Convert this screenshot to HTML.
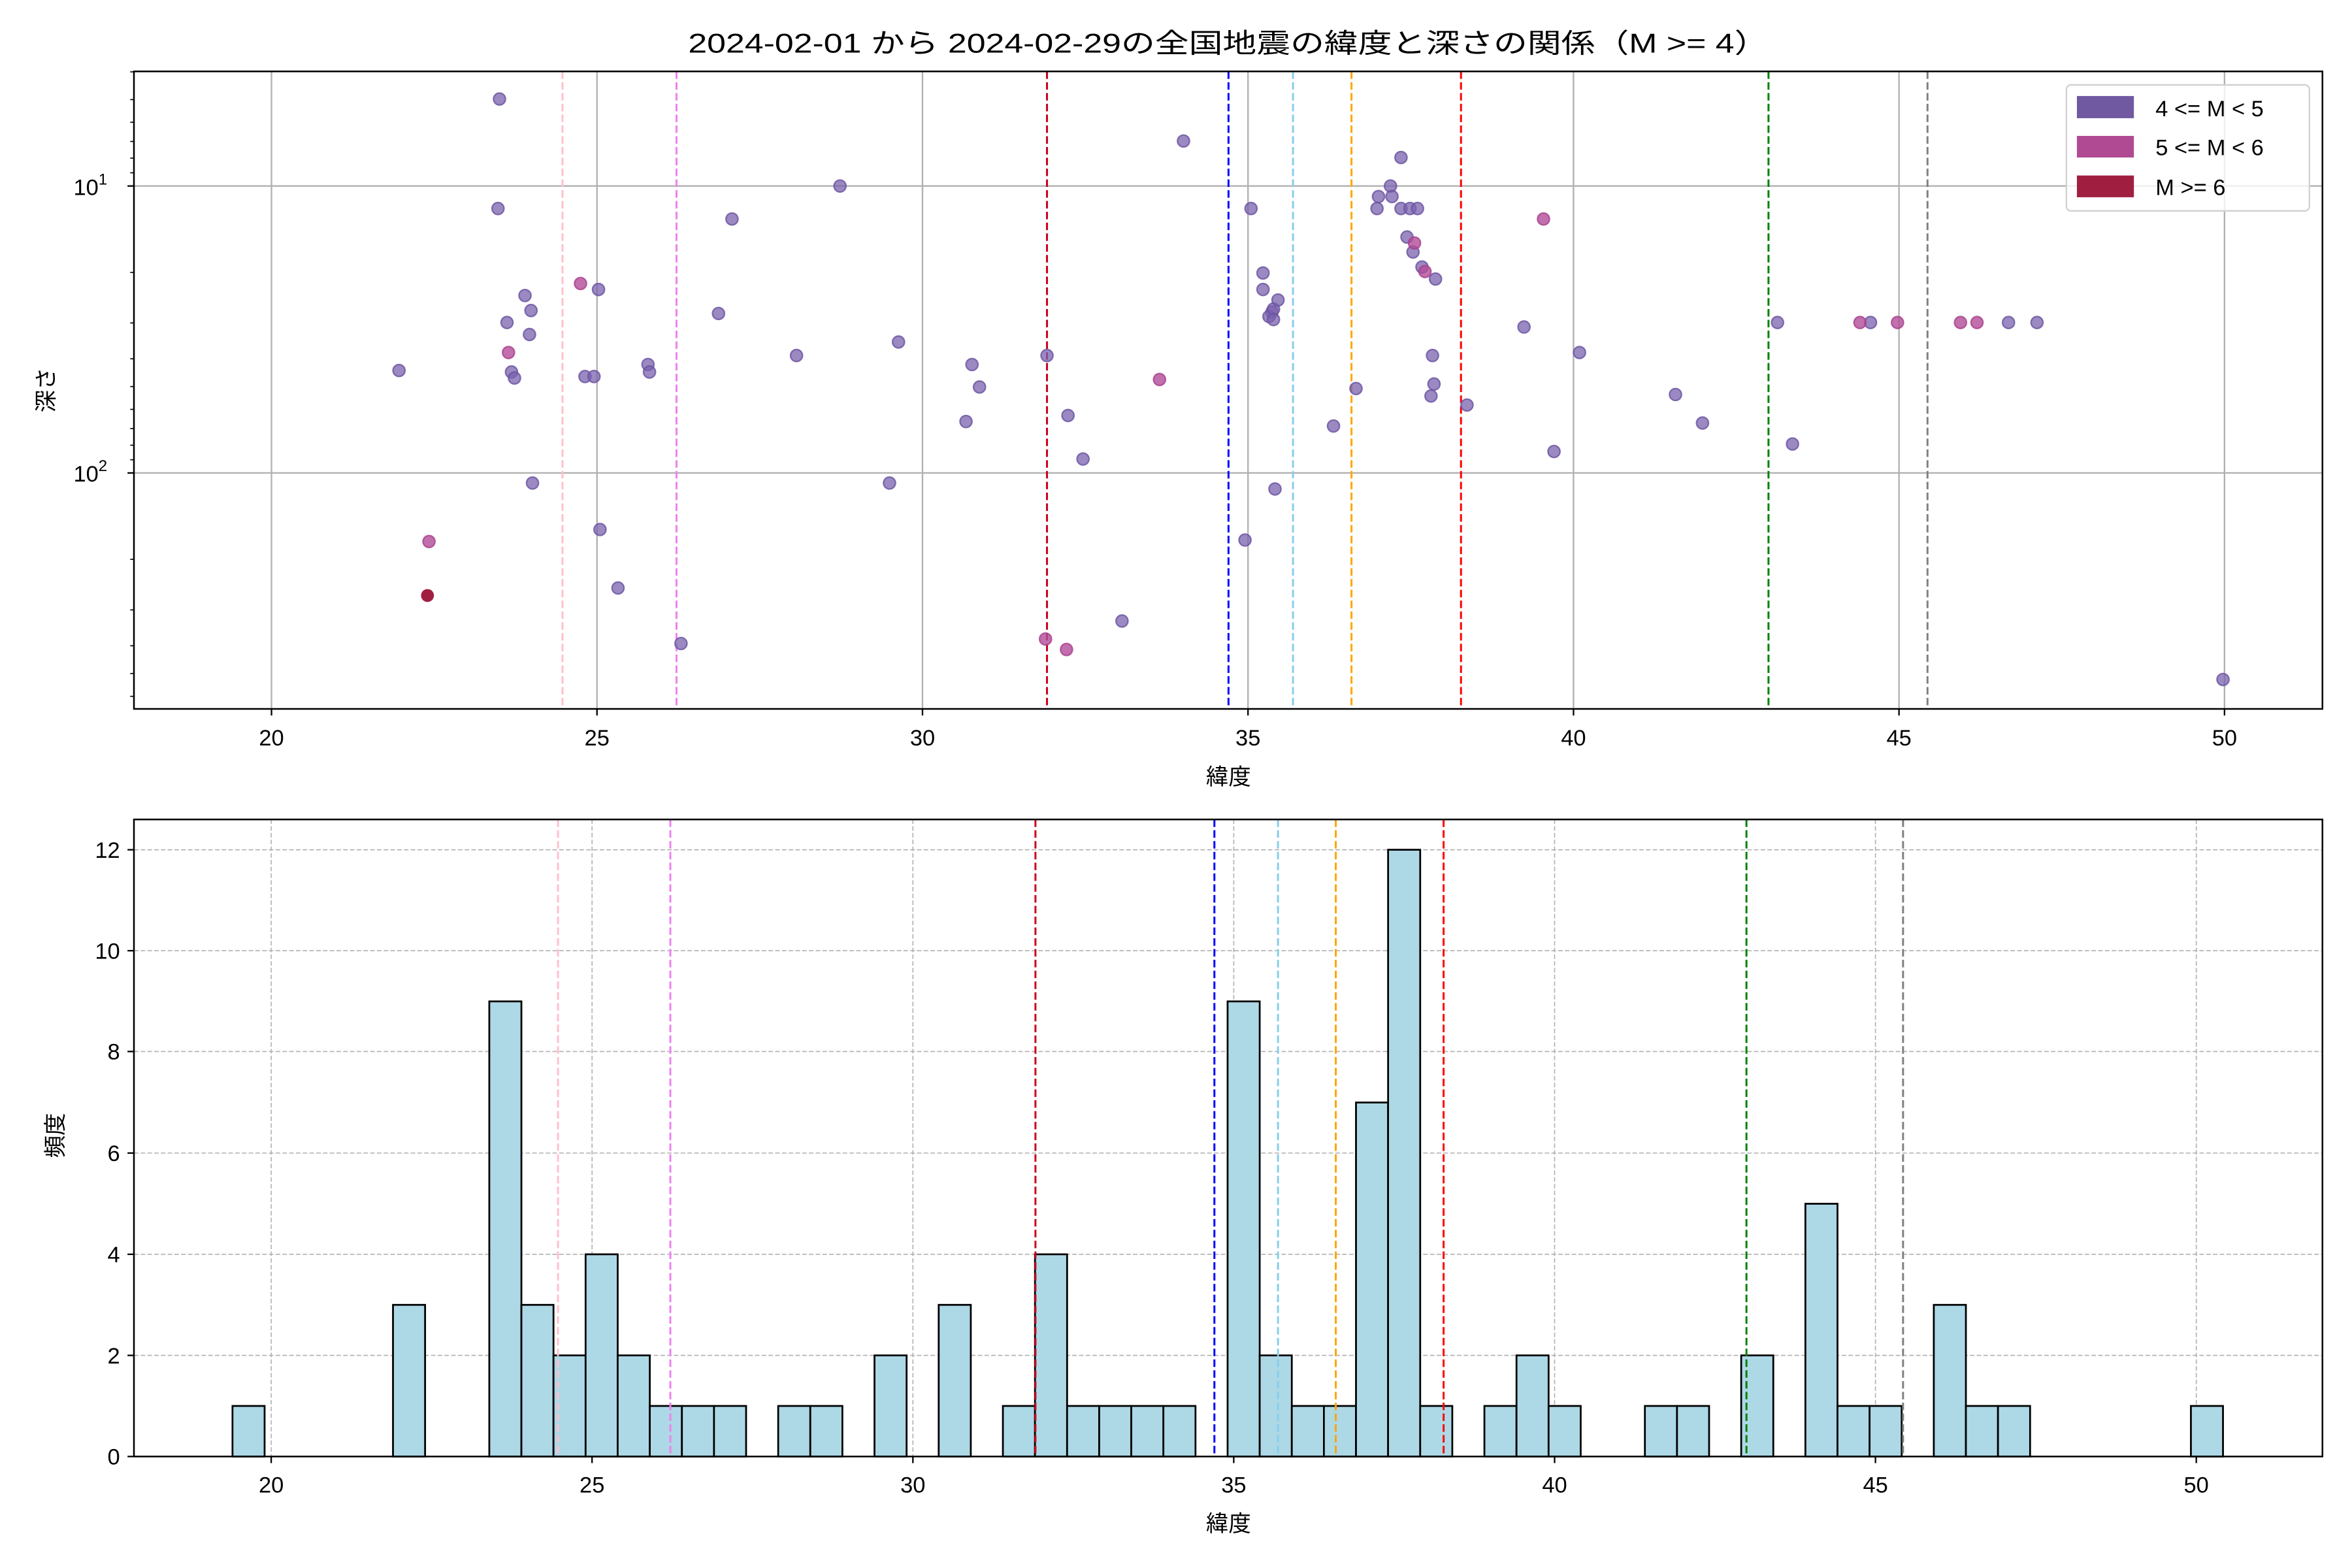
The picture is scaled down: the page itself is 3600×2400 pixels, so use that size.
<!DOCTYPE html>
<html><head><meta charset="utf-8"><style>html,body{margin:0;padding:0;background:#fff}svg{display:block}</style></head><body>
<svg width="3600" height="2400" viewBox="0 0 1568 1045.33" xmlns="http://www.w3.org/2000/svg" font-family="'Liberation Sans','Noto Sans CJK JP',sans-serif">
<rect width="1568" height="1046" fill="#fff"/>
<text x="818.8" y="35" font-size="18" text-anchor="middle" textLength="720" lengthAdjust="spacingAndGlyphs">2024-02-01 から 2024-02-29の全国地震の緯度と深さの関係（M &gt;= 4）</text>
<!-- TOP -->
<g stroke="#b0b0b0" stroke-width="1">
<line x1="181" y1="47.6" x2="181" y2="472.6"/><line x1="398" y1="47.6" x2="398" y2="472.6"/><line x1="615" y1="47.6" x2="615" y2="472.6"/><line x1="832" y1="47.6" x2="832" y2="472.6"/><line x1="1049" y1="47.6" x2="1049" y2="472.6"/><line x1="1266" y1="47.6" x2="1266" y2="472.6"/><line x1="1483" y1="47.6" x2="1483" y2="472.6"/>
<line x1="89.3" y1="124" x2="1548.3" y2="124"/><line x1="89.3" y1="315.3" x2="1548.3" y2="315.3"/>
</g>
<g stroke-width="1.3" stroke-dasharray="5,2.2" fill="none">
<line x1="375" y1="47.6" x2="375" y2="472.6" stroke="#ffc0cb"/>
<line x1="451" y1="47.6" x2="451" y2="472.6" stroke="#ee82ee"/>
<line x1="698" y1="47.6" x2="698" y2="472.6" stroke="#c8001c"/>
<line x1="819" y1="47.6" x2="819" y2="472.6" stroke="#0000ff"/>
<line x1="862" y1="47.6" x2="862" y2="472.6" stroke="#87ceeb"/>
<line x1="901" y1="47.6" x2="901" y2="472.6" stroke="#ffa500"/>
<line x1="974" y1="47.6" x2="974" y2="472.6" stroke="#ff0000"/>
<line x1="1179" y1="47.6" x2="1179" y2="472.6" stroke="#008000"/>
<line x1="1285" y1="47.6" x2="1285" y2="472.6" stroke="#808080"/>
</g>
<g fill="#7a62ad" fill-opacity="0.75" stroke="#6a52a0" stroke-opacity="0.8" stroke-width="1">
<circle cx="333" cy="66" r="4"/><circle cx="332" cy="139" r="4"/><circle cx="266" cy="247" r="4"/><circle cx="350" cy="197" r="4"/><circle cx="354" cy="207" r="4"/><circle cx="338" cy="215" r="4"/><circle cx="341" cy="248" r="4"/><circle cx="343" cy="252" r="4"/><circle cx="353" cy="223" r="4"/><circle cx="399" cy="193" r="4"/><circle cx="390" cy="251" r="4"/><circle cx="396" cy="251" r="4"/><circle cx="432" cy="243" r="4"/><circle cx="433" cy="248" r="4"/><circle cx="355" cy="322" r="4"/><circle cx="400" cy="353" r="4"/><circle cx="412" cy="392" r="4"/><circle cx="454" cy="429" r="4"/><circle cx="479" cy="209" r="4"/><circle cx="488" cy="146" r="4"/><circle cx="531" cy="237" r="4"/><circle cx="560" cy="124" r="4"/><circle cx="599" cy="228" r="4"/><circle cx="593" cy="322" r="4"/><circle cx="648" cy="243" r="4"/><circle cx="653" cy="258" r="4"/><circle cx="644" cy="281" r="4"/><circle cx="698" cy="237" r="4"/><circle cx="712" cy="277" r="4"/><circle cx="722" cy="306" r="4"/><circle cx="748" cy="414" r="4"/><circle cx="789" cy="94" r="4"/><circle cx="834" cy="139" r="4"/><circle cx="830" cy="360" r="4"/><circle cx="842" cy="182" r="4"/><circle cx="842" cy="193" r="4"/><circle cx="848" cy="208" r="4"/><circle cx="846" cy="211" r="4"/><circle cx="849" cy="206" r="4"/><circle cx="852" cy="200" r="4"/><circle cx="849" cy="213" r="4"/><circle cx="850" cy="326" r="4"/><circle cx="889" cy="284" r="4"/><circle cx="904" cy="259" r="4"/><circle cx="919" cy="131" r="4"/><circle cx="918" cy="139" r="4"/><circle cx="927" cy="124" r="4"/><circle cx="928" cy="131" r="4"/><circle cx="934" cy="105" r="4"/><circle cx="934" cy="139" r="4"/><circle cx="940" cy="139" r="4"/><circle cx="945" cy="139" r="4"/><circle cx="938" cy="158" r="4"/><circle cx="942" cy="168" r="4"/><circle cx="948" cy="178" r="4"/><circle cx="957" cy="186" r="4"/><circle cx="955" cy="237" r="4"/><circle cx="956" cy="256" r="4"/><circle cx="954" cy="264" r="4"/><circle cx="978" cy="270" r="4"/><circle cx="1016" cy="218" r="4"/><circle cx="1053" cy="235" r="4"/><circle cx="1036" cy="301" r="4"/><circle cx="1117" cy="263" r="4"/><circle cx="1135" cy="282" r="4"/><circle cx="1185" cy="215" r="4"/><circle cx="1195" cy="296" r="4"/><circle cx="1247" cy="215" r="4"/><circle cx="1339" cy="215" r="4"/><circle cx="1358" cy="215" r="4"/><circle cx="1482" cy="453" r="4"/>
</g>
<g fill="#b24c98" fill-opacity="0.8" stroke="#a8408c" stroke-opacity="0.8" stroke-width="1">
<circle cx="387" cy="189" r="4"/><circle cx="339" cy="235" r="4"/><circle cx="286" cy="361" r="4"/><circle cx="773" cy="253" r="4"/><circle cx="697" cy="426" r="4"/><circle cx="711" cy="433" r="4"/><circle cx="943" cy="162" r="4"/><circle cx="950" cy="181" r="4"/><circle cx="1029" cy="146" r="4"/><circle cx="1240" cy="215" r="4"/><circle cx="1265" cy="215" r="4"/><circle cx="1307" cy="215" r="4"/><circle cx="1318" cy="215" r="4"/>
</g>
<circle cx="285" cy="397" r="4.3" fill="#a01f40"/>
<rect x="89.3" y="47.6" width="1459" height="425" fill="none" stroke="#000" stroke-width="1.1"/>
<g stroke="#000" stroke-width="1">
<line x1="181" y1="472.6" x2="181" y2="477"/><line x1="398" y1="472.6" x2="398" y2="477"/><line x1="615" y1="472.6" x2="615" y2="477"/><line x1="832" y1="472.6" x2="832" y2="477"/><line x1="1049" y1="472.6" x2="1049" y2="477"/><line x1="1266" y1="472.6" x2="1266" y2="477"/><line x1="1483" y1="472.6" x2="1483" y2="477"/>
<line x1="85" y1="124" x2="89.3" y2="124"/><line x1="85" y1="315.3" x2="89.3" y2="315.3"/>
</g>
<g stroke="#000" stroke-width="0.7">
<line x1="86.8" y1="47.9" x2="89.3" y2="47.9"/><line x1="86.8" y1="66.4" x2="89.3" y2="66.4"/><line x1="86.8" y1="81.5" x2="89.3" y2="81.5"/><line x1="86.8" y1="94.3" x2="89.3" y2="94.3"/><line x1="86.8" y1="105.4" x2="89.3" y2="105.4"/><line x1="86.8" y1="115.2" x2="89.3" y2="115.2"/>
<line x1="86.8" y1="181.6" x2="89.3" y2="181.6"/><line x1="86.8" y1="215.3" x2="89.3" y2="215.3"/><line x1="86.8" y1="239.2" x2="89.3" y2="239.2"/><line x1="86.8" y1="257.7" x2="89.3" y2="257.7"/><line x1="86.8" y1="272.9" x2="89.3" y2="272.9"/><line x1="86.8" y1="285.7" x2="89.3" y2="285.7"/><line x1="86.8" y1="296.8" x2="89.3" y2="296.8"/><line x1="86.8" y1="306.5" x2="89.3" y2="306.5"/>
<line x1="86.8" y1="372.9" x2="89.3" y2="372.9"/><line x1="86.8" y1="406.6" x2="89.3" y2="406.6"/><line x1="86.8" y1="430.5" x2="89.3" y2="430.5"/><line x1="86.8" y1="449" x2="89.3" y2="449"/><line x1="86.8" y1="464.2" x2="89.3" y2="464.2"/>
</g>
<g font-size="15" text-anchor="middle">
<text x="181" y="497">20</text><text x="398" y="497">25</text><text x="615" y="497">30</text><text x="832" y="497">35</text><text x="1049" y="497">40</text><text x="1266" y="497">45</text><text x="1483" y="497">50</text>
</g>
<text x="49" y="130" font-size="15">10<tspan font-size="10.5" dy="-7">1</tspan></text>
<text x="49" y="321" font-size="15">10<tspan font-size="10.5" dy="-7">2</tspan></text>
<text x="819" y="523" font-size="15" text-anchor="middle">緯度</text>
<text transform="translate(36,260) rotate(-90)" font-size="15" text-anchor="middle">深さ</text>
<rect x="1377.6" y="56.6" width="162" height="84" rx="3" fill="#fff" fill-opacity="0.8" stroke="#d0d0d0" stroke-width="1"/>
<rect x="1384.6" y="64" width="38" height="14.8" fill="#7159a1"/>
<rect x="1384.6" y="90.6" width="38" height="14.4" fill="#b04b93"/>
<rect x="1384.6" y="117" width="38" height="14.5" fill="#a01f40"/>
<g font-size="15"><text x="1437" y="77.5">4 &lt;= M &lt; 5</text><text x="1437" y="103.5">5 &lt;= M &lt; 6</text><text x="1437" y="130">M &gt;= 6</text></g>
<!-- BOTTOM -->
<g stroke="#b0b0b0" stroke-width="0.7" stroke-dasharray="3,1.5">
<line x1="180.8" y1="546.3" x2="180.8" y2="971"/><line x1="394.7" y1="546.3" x2="394.7" y2="971"/><line x1="608.6" y1="546.3" x2="608.6" y2="971"/><line x1="822.5" y1="546.3" x2="822.5" y2="971"/><line x1="1036.4" y1="546.3" x2="1036.4" y2="971"/><line x1="1250.3" y1="546.3" x2="1250.3" y2="971"/><line x1="1464.2" y1="546.3" x2="1464.2" y2="971"/>
<line x1="89.3" y1="903.6" x2="1548.3" y2="903.6"/><line x1="89.3" y1="836.2" x2="1548.3" y2="836.2"/><line x1="89.3" y1="768.7" x2="1548.3" y2="768.7"/><line x1="89.3" y1="701" x2="1548.3" y2="701"/><line x1="89.3" y1="633.8" x2="1548.3" y2="633.8"/><line x1="89.3" y1="566.5" x2="1548.3" y2="566.5"/>
</g>
<g fill="#add8e6" stroke="#000" stroke-width="1.2">
<rect x="155" y="937.3" width="21.4" height="33.7"/>
<rect x="262" y="869.9" width="21.4" height="101.1"/>
<rect x="326.2" y="667.6" width="21.4" height="303.4"/>
<rect x="347.6" y="869.9" width="21.4" height="101.1"/>
<rect x="369" y="903.6" width="21.4" height="67.4"/>
<rect x="390.4" y="836.2" width="21.4" height="134.8"/>
<rect x="411.8" y="903.6" width="21.4" height="67.4"/>
<rect x="433.2" y="937.3" width="21.4" height="33.7"/>
<rect x="454.6" y="937.3" width="21.4" height="33.7"/>
<rect x="476" y="937.3" width="21.4" height="33.7"/>
<rect x="518.8" y="937.3" width="21.4" height="33.7"/>
<rect x="540.2" y="937.3" width="21.4" height="33.7"/>
<rect x="583" y="903.6" width="21.4" height="67.4"/>
<rect x="625.8" y="869.9" width="21.4" height="101.1"/>
<rect x="668.6" y="937.3" width="21.4" height="33.7"/>
<rect x="690" y="836.2" width="21.4" height="134.8"/>
<rect x="711.4" y="937.3" width="21.4" height="33.7"/>
<rect x="732.8" y="937.3" width="21.4" height="33.7"/>
<rect x="754.2" y="937.3" width="21.4" height="33.7"/>
<rect x="775.6" y="937.3" width="21.4" height="33.7"/>
<rect x="818.4" y="667.6" width="21.4" height="303.4"/>
<rect x="839.8" y="903.6" width="21.4" height="67.4"/>
<rect x="861.2" y="937.3" width="21.4" height="33.7"/>
<rect x="882.6" y="937.3" width="21.4" height="33.7"/>
<rect x="904" y="735" width="21.4" height="236"/>
<rect x="925.4" y="566.5" width="21.4" height="404.5"/>
<rect x="946.8" y="937.3" width="21.4" height="33.7"/>
<rect x="989.6" y="937.3" width="21.4" height="33.7"/>
<rect x="1011" y="903.6" width="21.4" height="67.4"/>
<rect x="1032.4" y="937.3" width="21.4" height="33.7"/>
<rect x="1096.6" y="937.3" width="21.4" height="33.7"/>
<rect x="1118" y="937.3" width="21.4" height="33.7"/>
<rect x="1160.8" y="903.6" width="21.4" height="67.4"/>
<rect x="1203.6" y="802.5" width="21.4" height="168.5"/>
<rect x="1225" y="937.3" width="21.4" height="33.7"/>
<rect x="1246.4" y="937.3" width="21.4" height="33.7"/>
<rect x="1289.2" y="869.9" width="21.4" height="101.1"/>
<rect x="1310.6" y="937.3" width="21.4" height="33.7"/>
<rect x="1332" y="937.3" width="21.4" height="33.7"/>
<rect x="1460.6" y="937.3" width="21.4" height="33.7"/>
</g>
<g stroke-width="1.3" stroke-dasharray="5,2.2" fill="none">
<line x1="372" y1="546.3" x2="372" y2="971" stroke="#ffc0cb"/>
<line x1="446.9" y1="546.3" x2="446.9" y2="971" stroke="#ee82ee"/>
<line x1="690.3" y1="546.3" x2="690.3" y2="971" stroke="#c8001c"/>
<line x1="809.6" y1="546.3" x2="809.6" y2="971" stroke="#0000ff"/>
<line x1="852" y1="546.3" x2="852" y2="971" stroke="#87ceeb"/>
<line x1="890.5" y1="546.3" x2="890.5" y2="971" stroke="#ffa500"/>
<line x1="962.4" y1="546.3" x2="962.4" y2="971" stroke="#ff0000"/>
<line x1="1164.3" y1="546.3" x2="1164.3" y2="971" stroke="#008000"/>
<line x1="1268.7" y1="546.3" x2="1268.7" y2="971" stroke="#808080"/>
</g>
<rect x="89.3" y="546.3" width="1459" height="424.7" fill="none" stroke="#000" stroke-width="1.1"/>
<g stroke="#000" stroke-width="1">
<line x1="180.8" y1="971" x2="180.8" y2="975.4"/><line x1="394.7" y1="971" x2="394.7" y2="975.4"/><line x1="608.6" y1="971" x2="608.6" y2="975.4"/><line x1="822.5" y1="971" x2="822.5" y2="975.4"/><line x1="1036.4" y1="971" x2="1036.4" y2="975.4"/><line x1="1250.3" y1="971" x2="1250.3" y2="975.4"/><line x1="1464.2" y1="971" x2="1464.2" y2="975.4"/>
<line x1="85" y1="971" x2="89.3" y2="971"/><line x1="85" y1="903.6" x2="89.3" y2="903.6"/><line x1="85" y1="836.2" x2="89.3" y2="836.2"/><line x1="85" y1="768.7" x2="89.3" y2="768.7"/><line x1="85" y1="701" x2="89.3" y2="701"/><line x1="85" y1="633.8" x2="89.3" y2="633.8"/><line x1="85" y1="566.5" x2="89.3" y2="566.5"/>
</g>
<g font-size="15" text-anchor="middle">
<text x="180.8" y="995">20</text><text x="394.7" y="995">25</text><text x="608.6" y="995">30</text><text x="822.5" y="995">35</text><text x="1036.4" y="995">40</text><text x="1250.3" y="995">45</text><text x="1464.2" y="995">50</text>
</g>
<g font-size="15" text-anchor="end">
<text x="80" y="976.3">0</text><text x="80" y="908.9">2</text><text x="80" y="841.5">4</text><text x="80" y="774">6</text><text x="80" y="706.3">8</text><text x="80" y="639.1">10</text><text x="80" y="571.8">12</text>
</g>
<text x="819" y="1021" font-size="15" text-anchor="middle">緯度</text>
<text transform="translate(42,757) rotate(-90)" font-size="15" text-anchor="middle">頻度</text>
</svg>
</body></html>
